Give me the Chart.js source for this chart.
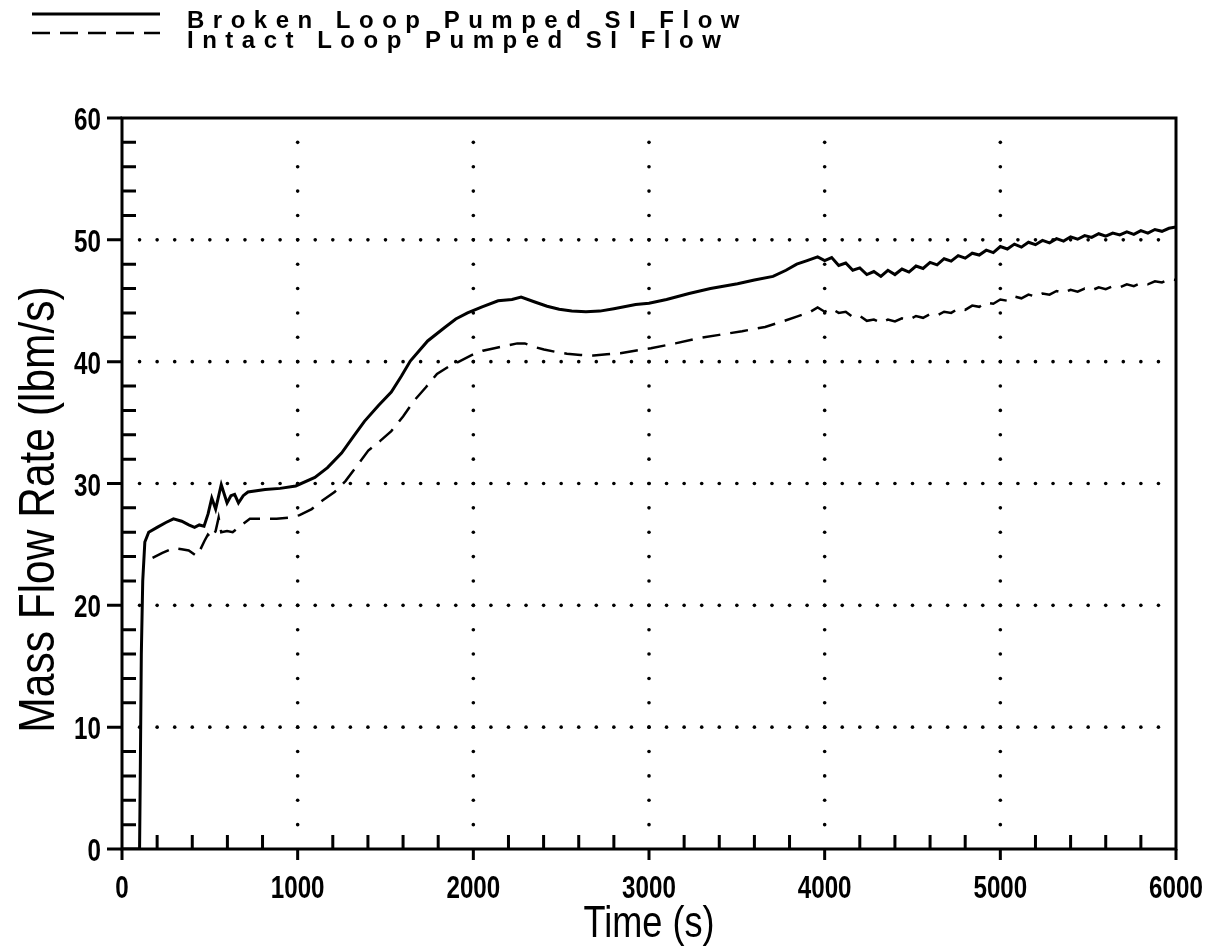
<!DOCTYPE html>
<html>
<head>
<meta charset="utf-8">
<script src="https://cdn.jsdelivr.net/npm/chart.js@4.4.1/dist/chart.umd.min.js"></script>
<style>
  html, body { margin: 0; padding: 0; background: #fff; }
  #wrap { width: 1218px; height: 951px; }
</style>
</head>
<body>
<div id="wrap"><canvas id="chart"></canvas></div>
<script>
// Broken loop pumped SI flow (solid)
const timeBroken = [0, 100, 104, 110, 118, 130, 152, 200, 250, 293, 340, 380, 413, 440, 467, 490, 511, 533, 565, 598, 620, 641, 663, 690, 717, 815, 900, 989, 1098, 1170, 1250, 1320, 1380, 1460, 1533, 1590, 1641, 1740, 1837, 1900, 1967, 2050, 2141, 2220, 2272, 2350, 2420, 2489, 2560, 2641, 2720, 2800, 2924, 3000, 3100, 3228, 3350, 3504, 3600, 3706, 3780, 3841, 3900,
  3960, 4000, 4040, 4080, 4120, 4160, 4200, 4240, 4280, 4320, 4360, 4400, 4440, 4480, 4520, 4560, 4600, 4640, 4680, 4720, 4760, 4800, 4840, 4880, 4920, 4960, 5000, 5040, 5080, 5120, 5160, 5200, 5240, 5280, 5320, 5360, 5400, 5440, 5480, 5520, 5560, 5600, 5640, 5680, 5720, 5760, 5800, 5840, 5880, 5920, 5960, 6000];
const flowBroken = [0, 0, 6, 16, 22, 25.2, 26.0, 26.4, 26.8, 27.1, 26.9, 26.6, 26.4, 26.6, 26.5, 27.5, 28.8, 27.9, 29.9, 28.4, 29.0, 29.1, 28.4, 29.0, 29.3, 29.5, 29.6, 29.8, 30.5, 31.3, 32.5, 33.9, 35.1, 36.4, 37.5, 38.8, 40.05, 41.7, 42.8, 43.5, 44.0, 44.5, 45.0, 45.1, 45.3, 44.9, 44.55, 44.3, 44.15, 44.1, 44.15, 44.35, 44.7, 44.8, 45.1, 45.6, 46.0, 46.4, 46.7, 47.0, 47.5, 48.0, 48.3,
  48.6, 48.3, 48.55, 47.9, 48.1, 47.5, 47.7, 47.15, 47.4, 47.0, 47.5, 47.15, 47.6, 47.35, 47.85, 47.65, 48.15, 47.95, 48.45, 48.25, 48.7, 48.5, 48.9, 48.75, 49.15, 48.95, 49.45, 49.25, 49.65, 49.4, 49.8, 49.6, 49.95, 49.75, 50.1, 49.9, 50.25, 50.05, 50.35, 50.2, 50.5, 50.3, 50.55, 50.4, 50.65, 50.45, 50.75, 50.55, 50.85, 50.7, 50.95, 51.05];

// Intact loop pumped SI flow (dashed)
const timeIntact = [174, 230, 293, 340, 380, 424, 440, 470, 489, 510, 533, 550, 565, 598, 630, 663, 700, 728, 800, 880, 950, 1011, 1080, 1141, 1210, 1272, 1340, 1402, 1470, 1533, 1600, 1663, 1730, 1793, 1860, 1924, 2000, 2054, 2120, 2185, 2250, 2293, 2350, 2402, 2470, 2533, 2610, 2685, 2760, 2837, 2920, 3011, 3150, 3272, 3400, 3530, 3661, 3760, 3841,
  3920, 3960, 4000, 4040, 4080, 4120, 4160, 4200, 4240, 4280, 4320, 4360, 4400, 4440, 4480, 4520, 4560, 4600, 4640, 4680, 4720, 4760, 4800, 4840, 4880, 4920, 4960, 5000, 5040, 5080, 5120, 5160, 5200, 5240, 5280, 5320, 5360, 5400, 5440, 5480, 5520, 5560, 5600, 5640, 5680, 5720, 5760, 5800, 5840, 5880, 5920, 5960, 6000];
const flowIntact = [23.9, 24.3, 24.7, 24.6, 24.5, 24.05, 24.4, 25.3, 25.8, 25.5, 26.1, 27.2, 26.0, 26.1, 26.0, 26.4, 26.8, 27.1, 27.1, 27.1, 27.2, 27.4, 27.9, 28.6, 29.3, 30.2, 31.5, 32.7, 33.5, 34.3, 35.5, 36.8, 37.9, 39.0, 39.6, 40.05, 40.6, 40.9, 41.1, 41.3, 41.5, 41.5, 41.2, 41.0, 40.8, 40.65, 40.55, 40.5, 40.6, 40.7, 40.9, 41.1, 41.5, 41.9, 42.2, 42.5, 42.85, 43.3, 43.7,
  44.1, 44.45, 44.1, 44.35, 44.0, 44.1, 43.65, 43.75, 43.35, 43.45, 43.2, 43.45, 43.3, 43.55, 43.45, 43.75, 43.6, 43.9, 43.8, 44.1, 44.0, 44.35, 44.25, 44.6, 44.5, 44.85, 44.75, 45.1, 45.0, 45.35, 45.2, 45.5, 45.35, 45.6, 45.5, 45.8, 45.65, 45.9, 45.75, 46.0, 45.85, 46.1, 45.95, 46.2, 46.1, 46.35, 46.2, 46.45, 46.35, 46.6, 46.5, 46.75, 46.7];

const seriesLabels = ['Broken Loop Pumped SI Flow', 'Intact Loop Pumped SI Flow'];
const xTicks = [0, 1000, 2000, 3000, 4000, 5000, 6000];
const yTicks = [0, 10, 20, 30, 40, 50, 60];
const xTitle = 'Time (s)';
const yTitle = 'Mass Flow Rate (lbm/s)';

// narrow text: Liberation Sans squeezed like Arial Narrow
function narrowText(ctx, text, x, y, font, align, sx, rot) {
  ctx.save();
  ctx.font = font;
  ctx.textAlign = align;
  ctx.translate(x, y);
  if (rot) ctx.rotate(rot);
  ctx.scale(sx, 1);
  ctx.fillText(text, 0, 0);
  ctx.restore();
}

// axes frame, inward/outward ticks, dotted grid, labels and legend
const framePlugin = {
  id: 'frame',
  beforeDatasetsDraw(chart) {
    const { ctx, chartArea: a, scales: { x, y } } = chart;
    ctx.save();
    ctx.fillStyle = '#000';
    // dotted grid
    xTicks.slice(1, -1).forEach(tx => {
      const px = x.getPixelForValue(tx);
      for (let v = 2; v < 60; v += 2) {
        ctx.beginPath();
        ctx.arc(px, y.getPixelForValue(v), 1.8, 0, Math.PI * 2);
        ctx.fill();
      }
    });
    yTicks.slice(1, -1).forEach(ty => {
      const py = y.getPixelForValue(ty);
      for (let t = 100; t < 6000; t += 100) {
        ctx.beginPath();
        ctx.arc(x.getPixelForValue(t), py, 1.8, 0, Math.PI * 2);
        ctx.fill();
      }
    });

    ctx.strokeStyle = '#000';
    ctx.lineWidth = 3;
    ctx.strokeRect(a.left, a.top, a.right - a.left, a.bottom - a.top);

    ctx.beginPath();
    for (let t = 0; t <= 6000; t += 200) {
      const px = x.getPixelForValue(t);
      ctx.moveTo(px, a.bottom);
      ctx.lineTo(px, t % 1000 === 0 ? a.bottom + 11 : a.bottom - 14);
    }
    for (let v = 0; v <= 60; v += 2) {
      const py = y.getPixelForValue(v);
      ctx.moveTo(a.left, py);
      ctx.lineTo(v % 10 === 0 ? a.left - 15 : a.left + 14, py);
    }
    ctx.stroke();

    // tick labels
    ctx.textBaseline = 'alphabetic';
    const tf = "bold 31px 'Liberation Sans', Arial, sans-serif";
    xTicks.forEach(t => narrowText(ctx, String(t), x.getPixelForValue(t), a.bottom + 49, tf, 'center', 0.78));
    yTicks.forEach(v => narrowText(ctx, String(v), a.left - 21, y.getPixelForValue(v) + 12, tf, 'right', 0.78));

    // axis titles
    ctx.textBaseline = 'middle';
    narrowText(ctx, xTitle, (a.left + a.right) / 2, a.bottom + 76, "44px 'Liberation Sans', Arial, sans-serif", 'center', 0.82);
    narrowText(ctx, yTitle, 40, (a.top + a.bottom) / 2 + 26, "50px 'Liberation Sans', Arial, sans-serif", 'center', 0.85, -Math.PI / 2);
    ctx.restore();
  },
  afterDraw(chart) {
    const { ctx } = chart;
    ctx.save();
    ctx.fillStyle = '#000';
    ctx.strokeStyle = '#000';
    ctx.font = "bold 24px 'Liberation Sans', Arial, sans-serif";
    ctx.letterSpacing = '8.5px';
    ctx.textBaseline = 'alphabetic';
    const rows = [{ lineY: 14, textY: 28 }, { lineY: 33, textY: 48 }];
    chart.data.datasets.forEach((ds, i) => {
      ctx.beginPath();
      ctx.lineWidth = ds.borderWidth;
      ctx.setLineDash(ds.borderDash || []);
      ctx.moveTo(32, rows[i].lineY);
      ctx.lineTo(160, rows[i].lineY);
      ctx.stroke();
      ctx.setLineDash([]);
      ctx.fillText(ds.label, 187, rows[i].textY);
    });
    ctx.restore();
  }
};

new Chart(document.getElementById('chart'), {
  type: 'line',
  data: {
    datasets: [
      {
        label: seriesLabels[0],
        data: timeBroken.map((t, i) => ({ x: t, y: flowBroken[i] })),
        borderColor: '#000',
        borderWidth: 3,
        pointRadius: 0,
        tension: 0,
        fill: false
      },
      {
        label: seriesLabels[1],
        data: timeIntact.map((t, i) => ({ x: t, y: flowIntact[i] })),
        borderColor: '#000',
        borderWidth: 2.5,
        borderDash: [18, 10],
        pointRadius: 0,
        tension: 0,
        fill: false
      }
    ]
  },
  options: {
    responsive: true,
    maintainAspectRatio: false,
    animation: false,
    layout: { padding: { top: 118, right: 42, left: 0, bottom: 0 } },
    plugins: { legend: { display: false }, tooltip: { enabled: false } },
    scales: {
      x: {
        type: 'linear',
        min: 0,
        max: 6000,
        afterFit: s => { s.height = 102; },
        grid: { display: false, drawTicks: false },
        border: { display: false },
        ticks: { display: false }
      },
      y: {
        type: 'linear',
        min: 0,
        max: 60,
        afterFit: s => { s.width = 122; },
        grid: { display: false, drawTicks: false },
        border: { display: false },
        ticks: { display: false }
      }
    }
  },
  plugins: [framePlugin]
});
</script>
</body>
</html>
